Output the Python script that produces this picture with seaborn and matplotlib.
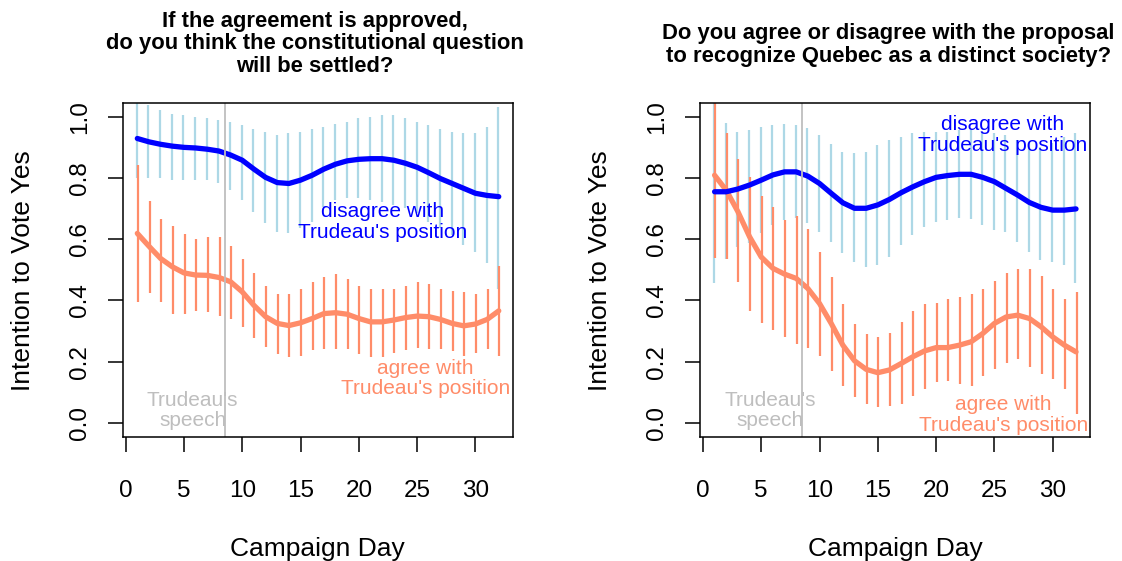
import numpy as np
import pandas as pd
import matplotlib
matplotlib.use("Agg")
import matplotlib.pyplot as plt
import seaborn as sns

days = list(range(1, 33))
speech_day = 8.5

titles = ["If the agreement is approved,\ndo you think the constitutional question\nwill be settled?",
          "Do you agree or disagree with the proposal\nto recognize Quebec as a distinct society?"]

# panel 1: constitutional question settled
settled_disagree_mean = [0.929, 0.918, 0.910, 0.904, 0.900, 0.898, 0.894, 0.888, 0.875, 0.858, 0.829, 0.802, 0.785, 0.782, 0.793, 0.809,
                         0.829, 0.845, 0.856, 0.861, 0.863, 0.863, 0.858, 0.848, 0.835, 0.817, 0.798, 0.782, 0.766, 0.750, 0.743, 0.739]
settled_disagree_lo = [0.799, 0.799, 0.799, 0.793, 0.793, 0.793, 0.793, 0.782, 0.761, 0.728, 0.690, 0.652, 0.624, 0.619, 0.635, 0.657,
                       0.706, 0.728, 0.733, 0.733, 0.728, 0.722, 0.711, 0.701, 0.684, 0.657, 0.635, 0.613, 0.581, 0.557, 0.521, 0.437]
settled_disagree_hi = [1.060, 1.038, 1.022, 1.009, 1.006, 1.000, 0.995, 0.989, 0.982, 0.973, 0.960, 0.949, 0.940, 0.946, 0.951, 0.960,
                       0.967, 0.975, 0.984, 0.995, 1.000, 1.006, 1.006, 0.995, 0.982, 0.973, 0.960, 0.949, 0.946, 0.946, 0.967, 1.033]
settled_agree_mean = [0.619, 0.577, 0.537, 0.510, 0.490, 0.483, 0.482, 0.475, 0.461, 0.428, 0.384, 0.347, 0.325, 0.318, 0.327, 0.341,
                      0.357, 0.360, 0.355, 0.341, 0.330, 0.330, 0.336, 0.344, 0.349, 0.347, 0.338, 0.325, 0.317, 0.323, 0.338, 0.366]
settled_agree_lo = [0.396, 0.423, 0.396, 0.357, 0.355, 0.366, 0.361, 0.349, 0.338, 0.312, 0.276, 0.249, 0.225, 0.216, 0.219, 0.238,
                    0.241, 0.241, 0.241, 0.225, 0.216, 0.216, 0.227, 0.238, 0.246, 0.241, 0.241, 0.236, 0.219, 0.227, 0.241, 0.219]
settled_agree_hi = [0.842, 0.726, 0.666, 0.644, 0.617, 0.600, 0.606, 0.606, 0.579, 0.535, 0.491, 0.448, 0.421, 0.421, 0.437, 0.459,
                    0.475, 0.486, 0.470, 0.448, 0.437, 0.437, 0.437, 0.448, 0.459, 0.453, 0.437, 0.432, 0.426, 0.421, 0.437, 0.513]

# panel 2: distinct society
society_disagree_mean = [0.755, 0.755, 0.764, 0.777, 0.793, 0.810, 0.820, 0.820, 0.806, 0.782, 0.750, 0.719, 0.701, 0.701, 0.712, 0.730,
                         0.752, 0.771, 0.788, 0.802, 0.808, 0.812, 0.812, 0.802, 0.788, 0.766, 0.744, 0.720, 0.704, 0.695, 0.695, 0.699]
society_disagree_lo = [0.456, 0.537, 0.575, 0.586, 0.619, 0.646, 0.662, 0.668, 0.652, 0.624, 0.592, 0.554, 0.524, 0.510, 0.515, 0.543,
                       0.581, 0.613, 0.641, 0.657, 0.662, 0.668, 0.665, 0.646, 0.630, 0.624, 0.592, 0.559, 0.532, 0.526, 0.515, 0.458]
society_disagree_hi = [1.055, 0.978, 0.949, 0.957, 0.967, 0.973, 0.976, 0.973, 0.962, 0.940, 0.911, 0.886, 0.880, 0.886, 0.908, 0.924,
                       0.935, 0.946, 0.951, 0.951, 0.951, 0.957, 0.957, 0.951, 0.946, 0.940, 0.924, 0.913, 0.902, 0.913, 0.935, 0.946]
society_agree_mean = [0.809, 0.760, 0.690, 0.608, 0.542, 0.505, 0.486, 0.472, 0.439, 0.390, 0.325, 0.254, 0.203, 0.175, 0.164, 0.173,
                      0.194, 0.216, 0.235, 0.246, 0.246, 0.254, 0.265, 0.292, 0.325, 0.346, 0.352, 0.341, 0.314, 0.281, 0.254, 0.232]
society_agree_lo = [0.540, 0.537, 0.459, 0.366, 0.325, 0.303, 0.279, 0.259, 0.246, 0.219, 0.170, 0.121, 0.083, 0.061, 0.052, 0.056,
                    0.061, 0.088, 0.110, 0.132, 0.137, 0.127, 0.121, 0.154, 0.176, 0.197, 0.208, 0.181, 0.159, 0.143, 0.110, 0.028]
society_agree_hi = [1.100, 0.946, 0.862, 0.802, 0.741, 0.704, 0.662, 0.677, 0.633, 0.557, 0.475, 0.388, 0.323, 0.290, 0.279, 0.295,
                    0.328, 0.366, 0.388, 0.393, 0.404, 0.410, 0.421, 0.437, 0.464, 0.491, 0.502, 0.502, 0.481, 0.437, 0.404, 0.426]

LIGHTBLUE = "#ADD8E6"
BLUE = "#0000FF"
SALMON = "#FF8C69"
GRAY = "#BEBEBE"

sns.set_style("ticks")
plt.rcParams['font.family'] = ['Liberation Sans', 'DejaVu Sans']
plt.rcParams['text.color'] = 'black'
plt.rcParams['axes.labelcolor'] = 'black'
plt.rcParams['xtick.color'] = 'black'
plt.rcParams['ytick.color'] = 'black'

fig = plt.figure(figsize=(11.22, 5.61), dpi=100)
ax1 = fig.add_axes([0.1094, 0.2216, 0.3476, 0.5943])
ax2 = fig.add_axes([0.6239, 0.2216, 0.3476, 0.5943])


def panel(ax, dis_mean, dis_lo, dis_hi, ag_mean, ag_lo, ag_hi):
    d = np.array(days, dtype=float)
    table = pd.DataFrame({"day": days, "disagree": dis_mean, "agree": ag_mean})
    ax.vlines(d - 0.05, dis_lo, dis_hi, color=LIGHTBLUE, lw=1.6)
    ax.vlines(d + 0.05, ag_lo, ag_hi, color=SALMON, lw=1.6)
    sns.lineplot(data=table, x="day", y="agree", ax=ax, color=SALMON, lw=3.8)
    sns.lineplot(data=table, x="day", y="disagree", ax=ax, color=BLUE, lw=3.8)
    ax.axvline(speech_day, color=GRAY, lw=1.3)
    ax.set_xlim(-0.25, 33.2)
    ax.set_ylim(-0.045, 1.044)
    ax.set_xticks([0, 5, 10, 15, 20, 25, 30])
    ax.set_yticks([0.0, 0.2, 0.4, 0.6, 0.8, 1.0])
    ax.set_yticklabels(["0.0", "0.2", "0.4", "0.6", "0.8", "1.0"], rotation=90, va="center")
    ax.tick_params(axis="both", labelsize=17.5, length=11, width=1.1, color="black", labelcolor="black")
    ax.tick_params(axis="x", pad=20)
    ax.tick_params(axis="y", pad=12)
    for s in ax.spines.values():
        s.set_visible(True)
        s.set_color("black")
        s.set_linewidth(1.1)
    ax.set_xlabel("")
    ax.set_ylabel("")
    ax.text(5.75, 0.04, "Trudeau's\nspeech", color=GRAY, fontsize=15, ha="center", va="center", linespacing=1.1)


panel(ax1, settled_disagree_mean, settled_disagree_lo, settled_disagree_hi,
      settled_agree_mean, settled_agree_lo, settled_agree_hi)
panel(ax2, society_disagree_mean, society_disagree_lo, society_disagree_hi,
      society_agree_mean, society_agree_lo, society_agree_hi)

# axis titles placed in figure pixels to match the original layout
for cx in (317.7, 895.0):
    fig.text(cx / 1122, 5 / 561, "Campaign Day", fontsize=19, ha="center", va="baseline")
for cx in (23.0, 600.0):
    fig.text(cx / 1122, 1 - 270.4 / 561, "Intention to Vote Yes", fontsize=19, rotation=90, ha="center", va="center")

ax1.text(22.0, 0.657, "disagree with\nTrudeau's position", color=BLUE, fontsize=15, ha="center", va="center", linespacing=1.1)
ax1.text(25.7, 0.145, "agree with\nTrudeau's position", color=SALMON, fontsize=15, ha="center", va="center", linespacing=1.1)
ax2.text(25.7, 0.94, "disagree with\nTrudeau's position", color=BLUE, fontsize=15, ha="center", va="center", linespacing=1.1)
ax2.text(25.8, 0.026, "agree with\nTrudeau's position", color=SALMON, fontsize=15, ha="center", va="center", linespacing=1.1)

fig.text(314.8 / 1122, 1 - 44 / 561, titles[0], ha="center", va="center", fontsize=15.8, fontweight="bold", linespacing=1.1)
fig.text(888.6 / 1122, 1 - 45 / 561, titles[1], ha="center", va="center", fontsize=15.8, fontweight="bold", linespacing=1.1)

fig.savefig("out.png", dpi=100)
